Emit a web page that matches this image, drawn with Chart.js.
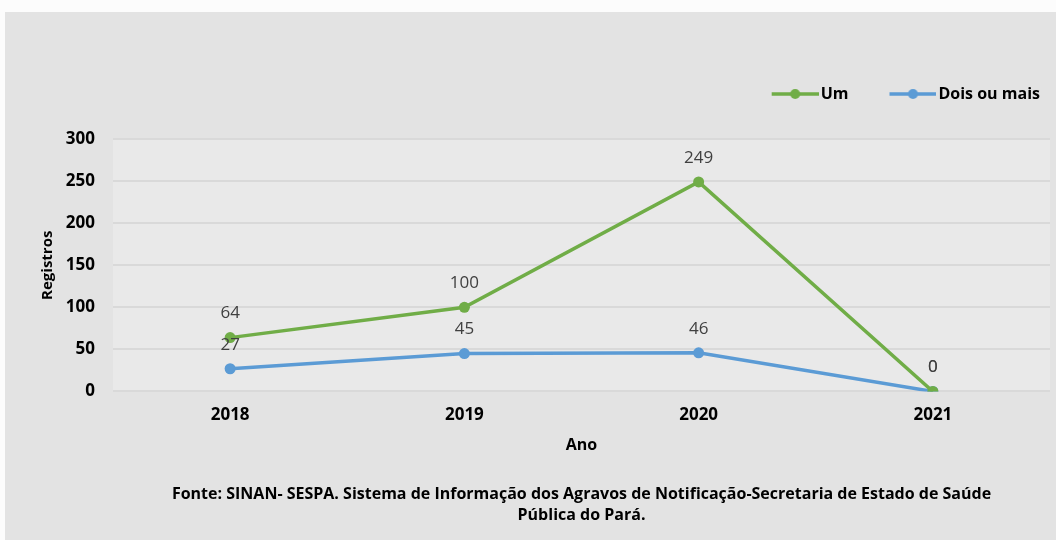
<!DOCTYPE html>
<html>
<head>
<meta charset="utf-8">
<script src="https://cdn.jsdelivr.net/npm/chart.js@4"></script>
<style>
  html, body { margin: 0; padding: 0; background: #fcfcfc; }
  #panel { position: absolute; left: 5px; top: 12px; width: 1051px; height: 528px; background: #e3e3e3; }
  canvas { display: block; }
</style>
</head>
<body>
<div id="panel"><canvas id="myChart" width="1051" height="528"></canvas></div>
<script>
const anos = ['2018', '2019', '2020', '2021'];
const um = [64, 100, 249, 0];
const doisOuMais = [27, 45, 46, 0];
const yTicks = [0, 50, 100, 150, 200, 250, 300];
const fonte = [
  'Fonte: SINAN- SESPA. Sistema de Informação dos Agravos de Notificação-Secretaria de Estado de Saúde',
  'Pública do Pará.'
];

const verde = '#70ad47';
const azul = '#5b9bd5';
const fam = "'Open Sans', 'DejaVu Sans', sans-serif";

// line+dot swatch for the legend, shifted right inside the box so it sits next to the text
function swatch(color) {
  const c = document.createElement('canvas');
  c.width = 84; c.height = 12;
  const g = c.getContext('2d');
  g.strokeStyle = color; g.lineWidth = 3.5;
  g.beginPath(); g.moveTo(37, 6); g.lineTo(84, 6); g.stroke();
  g.fillStyle = color;
  g.beginPath(); g.arc(60.5, 6, 5, 0, Math.PI * 2); g.fill();
  return c;
}

const plotBg = {
  id: 'plotBg',
  beforeDraw(chart) {
    const a = chart.chartArea, ctx = chart.ctx;
    ctx.save();
    ctx.fillStyle = '#e9e9e9';
    ctx.fillRect(a.left, a.top, a.right - a.left, a.bottom - a.top);
    ctx.restore();
  }
};

// extra room under the legend
const legendGap = {
  id: 'legendGap',
  beforeInit(chart) {
    const fit = chart.legend.fit;
    chart.legend.fit = function () {
      fit.bind(chart.legend)();
      this.height += 27;
    };
  }
};

const valueLabels = {
  id: 'valueLabels',
  afterDatasetsDraw(chart) {
    const ctx = chart.ctx;
    ctx.save();
    ctx.font = '17px ' + fam;
    ctx.fillStyle = '#404040';
    ctx.textAlign = 'center';
    ctx.textBaseline = 'middle';
    chart.data.datasets.forEach((ds, i) => {
      chart.getDatasetMeta(i).data.forEach((pt, j) => {
        ctx.fillText(ds.data[j], pt.x, pt.y - 24);
      });
    });
    ctx.restore();
  }
};

let myChart = document.querySelector('#myChart').getContext('2d');

let chart = new Chart(myChart, {
  type: 'line',
  data: {
    labels: anos,
    datasets: [{
      label: 'Um',
      data: um,
      borderColor: verde,
      backgroundColor: verde,
      borderWidth: 3.5,
      pointRadius: 5.5,
      pointBorderWidth: 0,
      tension: 0
    }, {
      label: 'Dois ou mais',
      data: doisOuMais,
      borderColor: azul,
      backgroundColor: azul,
      borderWidth: 3.5,
      pointRadius: 5.5,
      pointBorderWidth: 0,
      tension: 0
    }]
  },
  options: {
    responsive: false,
    animation: false,
    layout: { padding: { top: 64, left: 34, right: 6, bottom: 6 } },
    plugins: {
      tooltip: { enabled: false },
      legend: {
        position: 'top',
        align: 'end',
        labels: {
          usePointStyle: true,
          pointStyleWidth: 72,
          color: '#000',
          font: { family: fam, size: 16, weight: 'bold' },
          padding: 10,
          generateLabels(ch) {
            const items = Chart.defaults.plugins.legend.labels.generateLabels(ch);
            items.forEach((it, i) => { it.pointStyle = swatch(i === 0 ? verde : azul); });
            return items;
          }
        }
      },
      subtitle: {
        display: true,
        position: 'bottom',
        fullSize: false,
        text: fonte,
        color: '#000',
        font: { family: fam, size: 16, weight: 'bold', lineHeight: 1.31 },
        padding: { top: 29, bottom: 8 }
      }
    },
    scales: {
      x: {
        offset: true,
        grid: { display: false },
        border: { display: false },
        ticks: { color: '#000', font: { family: fam, size: 17, weight: 'bold' }, padding: 5 },
        title: { display: true, text: 'Ano', color: '#000', font: { family: fam, size: 16, weight: 'bold' }, padding: { top: 6, bottom: 0 } }
      },
      y: {
        min: 0,
        max: 300,
        afterBuildTicks(s) { s.ticks = yTicks.map(v => ({ value: v })); },
        afterFit(s) { s.width = 74; },
        grid: { color: '#d9d9d9', lineWidth: 2, drawTicks: false },
        border: { display: false },
        ticks: { color: '#000', font: { family: fam, size: 17, weight: 'bold' }, padding: 18 },
        title: { display: true, text: 'Registros', color: '#000', font: { family: fam, size: 15, weight: 'bold' }, padding: { top: 0, bottom: 0 } }
      }
    }
  },
  plugins: [plotBg, legendGap, valueLabels]
});
</script>
</body>
</html>
